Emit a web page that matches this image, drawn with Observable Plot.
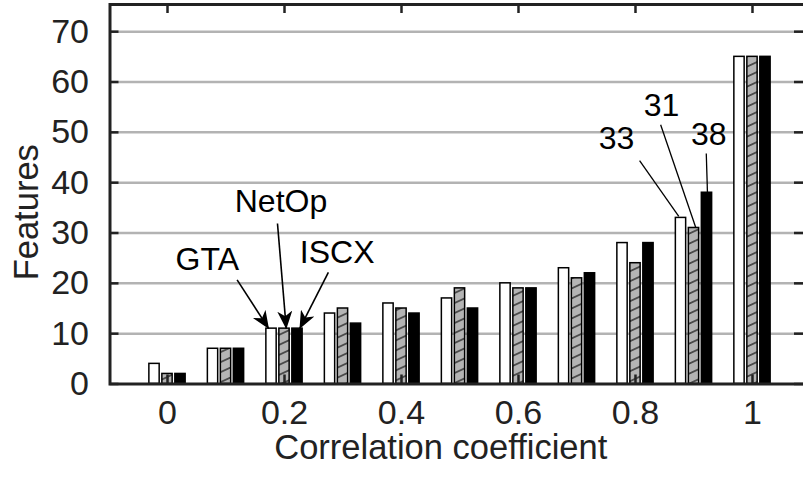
<!DOCTYPE html>
<html>
<head>
<meta charset="utf-8">
<script src="https://cdn.jsdelivr.net/npm/d3@7"></script>
<script src="https://cdn.jsdelivr.net/npm/@observablehq/plot@0.6"></script>
<style>
  html, body { margin: 0; padding: 0; background: white; }
  svg { display: block; }
</style>
</head>
<body>
<div id="chart"></div>
<script>
// ---- data ----
const categories = [0, 0.1, 0.2, 0.3, 0.4, 0.5, 0.6, 0.7, 0.8, 0.9, 1];
const seriesNames = ["GTA", "NetOp", "ISCX"];
const gta   = [4, 7, 11, 14, 16, 17, 20, 23, 28, 33, 65];
const netop = [2, 7, 11, 15, 15, 19, 19, 21, 24, 31, 65];
const iscx  = [2, 7, 11, 12, 14, 15, 19, 22, 28, 38, 65];
const xTicks = [0, 0.2, 0.4, 0.6, 0.8, 1];
const xTickLabels = ["0", "0.2", "0.4", "0.6", "0.8", "1"];
const yTicks = [0, 10, 20, 30, 40, 50, 60, 70];
const xTitle = "Correlation coefficient";
const yTitle = "Features";

// series-name callouts (text + arrow), in data units
const calloutText = ["GTA", "NetOp", "ISCX"];
const calloutTextX = [0.068, 0.194, 0.290];
const calloutTextY = [22.6, 34.1, 24.1];
const calloutFromX = [0.119, 0.188, 0.275];
const calloutFromY = [20.7, 31.9, 22.2];
const calloutToX   = [0.173, 0.203, 0.226];
const calloutToY   = [11, 11, 11];

// value callouts at 0.9
const valueText = ["33", "31", "38"];
const valueTextX = [0.7675, 0.8444, 0.9253];
const valueTextY = [46.7, 53.3, 47.5];
const valueFromX = [0.807, 0.843, 0.921];
const valueFromY = [44.4, 51.5, 45.8];
const valueToX   = [0.874, 0.903, 0.923];
const valueToY   = [33.3, 31.1, 38.1];

// ---- tables built from the arrays ----
const seriesValues = [gta, netop, iscx];
const barOffset = [-0.0222, 0, 0.0222];
const halfW = 0.0088;
const bars = seriesNames.map((s, si) =>
  categories.map((c, i) => ({series: s, c, v: seriesValues[si][i], off: barOffset[si]}))
);
const callouts = calloutText.map((t, i) => ({t, x: calloutTextX[i], y: calloutTextY[i],
  x1: calloutFromX[i], y1: calloutFromY[i], x2: calloutToX[i], y2: calloutToY[i]}));
const values = valueText.map((t, i) => ({t, x: valueTextX[i], y: valueTextY[i],
  x1: valueFromX[i], y1: valueFromY[i], x2: valueToX[i], y2: valueToY[i]}));

const W = 803, H = 477, ML = 109.5, MR = 0, MT = 4, MB = 93.5;
const plotW = W - ML - MR, plotH = H - MT - MB;
const tickLen = 9;
const ink = "#222";

const barMark = (data, fill) => Plot.rectY(data, {
  x1: d => d.c + d.off - halfW, x2: d => d.c + d.off + halfW, y: "v",
  fill, stroke: "black", strokeWidth: 1.5
});

const svg = Plot.plot({
  width: W, height: H,
  marginLeft: ML, marginRight: MR, marginTop: MT, marginBottom: MB,
  style: {fontFamily: "'Liberation Sans', Arial, Helvetica, sans-serif", fontSize: "33px", color: ink, background: "white"},
  x: {domain: [-0.0983, 1.0872], axis: null},
  y: {domain: [0, 75.4], axis: null},
  marks: [
    Plot.gridY(yTicks.filter(v => v > 0), {stroke: "#b3b3b3", strokeOpacity: 1, strokeWidth: 2.5}),
    barMark(bars[0], "white"),
    barMark(bars[1], "url(#hatch)"),
    barMark(bars[2], "black"),
    Plot.link(callouts, {x1: "x1", y1: "y1", x2: "x2", y2: "y2", stroke: "black", strokeWidth: 1.6}),
    Plot.text(callouts, {x: "x", y: "y", text: "t", fontSize: 32, lineAnchor: "bottom", textAnchor: "middle", fill: "black"}),
    Plot.link(values, {x1: "x1", y1: "y1", x2: "x2", y2: "y2", stroke: "black", strokeWidth: 1.3}),
    Plot.text(values, {x: "x", y: "y", text: "t", fontSize: 32, lineAnchor: "bottom", textAnchor: "middle", fill: "black"}),
    // inward ticks
    Plot.tickY(yTicks, {y: d => d, stroke: ink, strokeWidth: 2.5, insetRight: plotW - tickLen}),
    Plot.tickY(yTicks, {y: d => d, stroke: ink, strokeWidth: 2.5, insetLeft: plotW - tickLen}),
    Plot.tickX(xTicks, {x: d => d, stroke: ink, strokeWidth: 2.5, insetBottom: plotH - tickLen}),
    Plot.tickX(xTicks, {x: d => d, stroke: ink, strokeWidth: 2.5, insetTop: plotH - tickLen}),
    Plot.frame({stroke: ink, strokeWidth: 3, insetRight: -2}),
    // tick labels
    Plot.axisY(yTicks, {anchor: "left", tickSize: 0, tickPadding: 21, fontSize: 34, tickFormat: d => String(d), label: null, fill: ink}),
    Plot.axisX(xTicks, {anchor: "bottom", tickSize: 0, tickPadding: 16, fontSize: 34, tickFormat: d => xTickLabels[xTicks.indexOf(d)], label: null, fill: ink}),
    // axis titles
    Plot.text([xTitle], {frameAnchor: "bottom", textAnchor: "middle", dx: -16, dy: 75, lineAnchor: "bottom", fontSize: 34.5, fill: ink}),
    Plot.text([yTitle], {frameAnchor: "left", textAnchor: "middle", rotate: -90, dx: -72, dy: 18, lineAnchor: "bottom", fontSize: 34.5, fill: ink})
  ]
});

const s = d3.select(svg);
const defs = s.insert("defs", ":first-child");
const pat = defs.append("pattern")
  .attr("id", "hatch").attr("patternUnits", "userSpaceOnUse")
  .attr("width", 8).attr("height", 10)
  .attr("patternTransform", "skewY(-25)");
pat.append("rect").attr("width", 8).attr("height", 10).attr("fill", "#b4b4b4");
pat.append("line").attr("x1", 0).attr("y1", 5).attr("x2", 8).attr("y2", 5)
  .attr("stroke", "#111").attr("stroke-width", 1.3);
const mk = defs.append("marker")
  .attr("id", "ah").attr("markerUnits", "userSpaceOnUse")
  .attr("markerWidth", 18).attr("markerHeight", 15)
  .attr("viewBox", "0 0 18 15").attr("refX", 17.5).attr("refY", 7.5)
  .attr("orient", "auto");
mk.append("path").attr("d", "M0,0L18,7.5L0,15L5,7.5Z").attr("fill", "black");
// first link mark = series-name arrows
s.selectAll('g[aria-label="link"]').filter((d, i) => i === 0)
  .selectAll("path").attr("marker-end", "url(#ah)");

document.getElementById("chart").appendChild(svg);
</script>
</body>
</html>
